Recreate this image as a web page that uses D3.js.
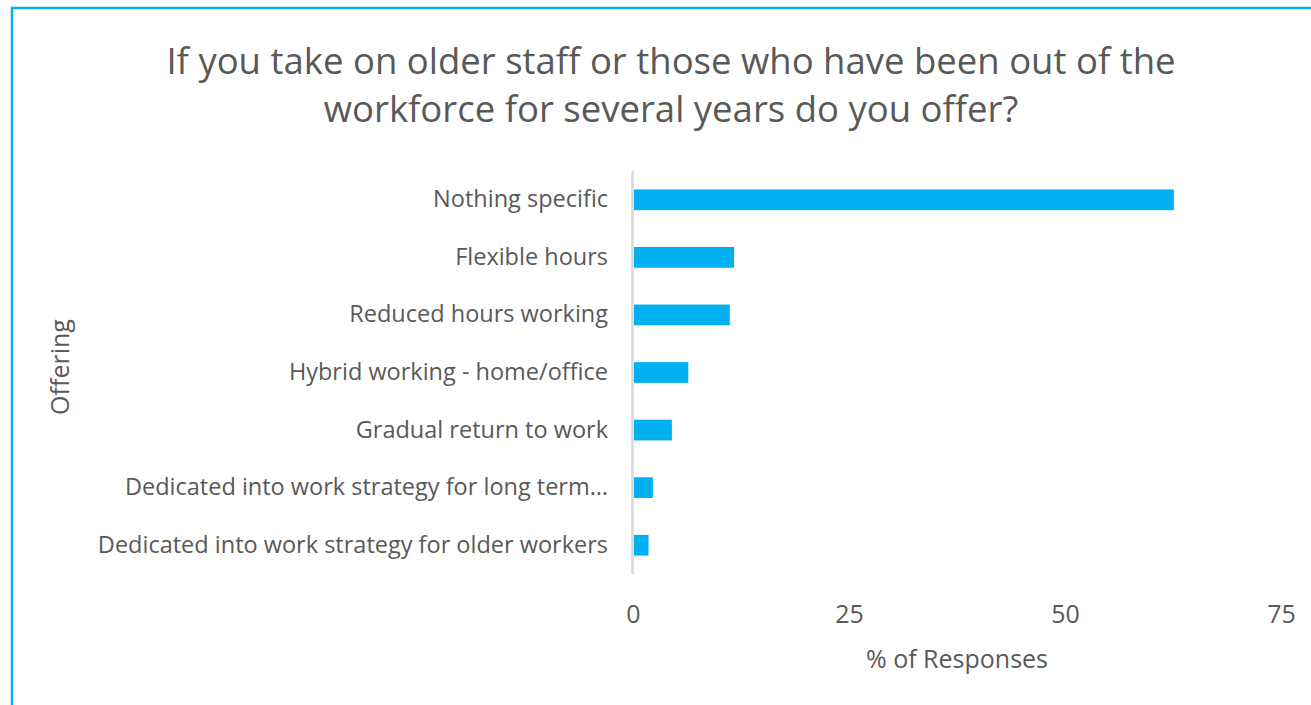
<!DOCTYPE html>
<html>
<head>
<meta charset="utf-8">
<script src="https://cdn.jsdelivr.net/npm/d3@7"></script>
<style>
  html, body { margin: 0; padding: 0; background: #fff; }
  svg { display: block; }
  text { font-family: "Open Sans", "Noto Sans", sans-serif; fill: #595959; }
</style>
</head>
<body>
<svg id="chart" width="1311" height="705"></svg>
<script>
const titleLines = ["If you take on older staff or those who have been out of the", "workforce for several years do you offer?"];
const categories = [
  "Nothing specific",
  "Flexible hours",
  "Reduced hours working",
  "Hybrid working - home/office",
  "Gradual return to work",
  "Dedicated into work strategy for long term\u2026",
  "Dedicated into work strategy for older workers"
];
const values = [62.6, 11.7, 11.2, 6.4, 4.5, 2.3, 1.8];
const xTicks = [0, 25, 50, 75];
const xAxisTitle = "% of Responses";
const yAxisTitle = "Offering";

const svg = d3.select("#chart");
const W = 1311, H = 705;
const plot = { left: 633, right: 1281, top: 171, bottom: 574 };

// border (left and top only visible)
svg.append("line").attr("x1", 12).attr("x2", 12).attr("y1", 7).attr("y2", H)
  .attr("stroke", "#00b0f0").attr("stroke-width", 2.5);
svg.append("line").attr("x1", 11).attr("x2", W).attr("y1", 8).attr("y2", 8)
  .attr("stroke", "#00b0f0").attr("stroke-width", 2.5);

const x = d3.scaleLinear().domain([0, 75]).range([plot.left, plot.right]);
const y = d3.scaleBand().domain(categories).range([plot.top, plot.bottom]).paddingInner(0.64).paddingOuter(0.32);

// title
const title = svg.append("text").attr("text-anchor", "middle").attr("font-size", 36.5);
titleLines.forEach((t, i) => {
  title.append("tspan").attr("x", 671).attr("y", 74 + i * 48).text(t);
});

// bars
svg.selectAll("rect.bar").data(categories).join("rect")
  .attr("class", "bar")
  .attr("x", x(0) + 1)
  .attr("y", c => y(c))
  .attr("width", (c, i) => x(values[i]) - x(0) - 1)
  .attr("height", y.bandwidth())
  .attr("fill", "#00b0f0");

// y axis line
svg.append("line").attr("x1", x(0) - 0.5).attr("x2", x(0) - 0.5)
  .attr("y1", plot.top).attr("y2", plot.bottom)
  .attr("stroke", "#d9d9d9").attr("stroke-width", 2.5);

// category labels
const yAxis = d3.axisLeft(y).tickSize(0).tickPadding(25);
const gy = svg.append("g").attr("transform", `translate(${x(0)},0)`).call(yAxis);
gy.select(".domain").remove();
gy.selectAll("text").attr("font-size", 23.5).attr("fill", "#595959")
  .style("font-family", '"Open Sans", sans-serif');

// x axis tick labels
const xAxis = d3.axisBottom(x).tickValues(xTicks).tickSize(0).tickPadding(0);
const gx = svg.append("g").attr("transform", `translate(0,623)`).call(xAxis);
gx.select(".domain").remove();
gx.selectAll("text").attr("font-size", 25).attr("fill", "#595959").attr("dy", 0)
  .style("font-family", '"Open Sans", sans-serif');

// axis titles
svg.append("text").attr("x", 957).attr("y", 668).attr("text-anchor", "middle")
  .attr("font-size", 25).text(xAxisTitle);
svg.append("text").attr("transform", "translate(69,367) rotate(-90)")
  .attr("text-anchor", "middle").attr("font-size", 25).text(yAxisTitle);
</script>
</body>
</html>
